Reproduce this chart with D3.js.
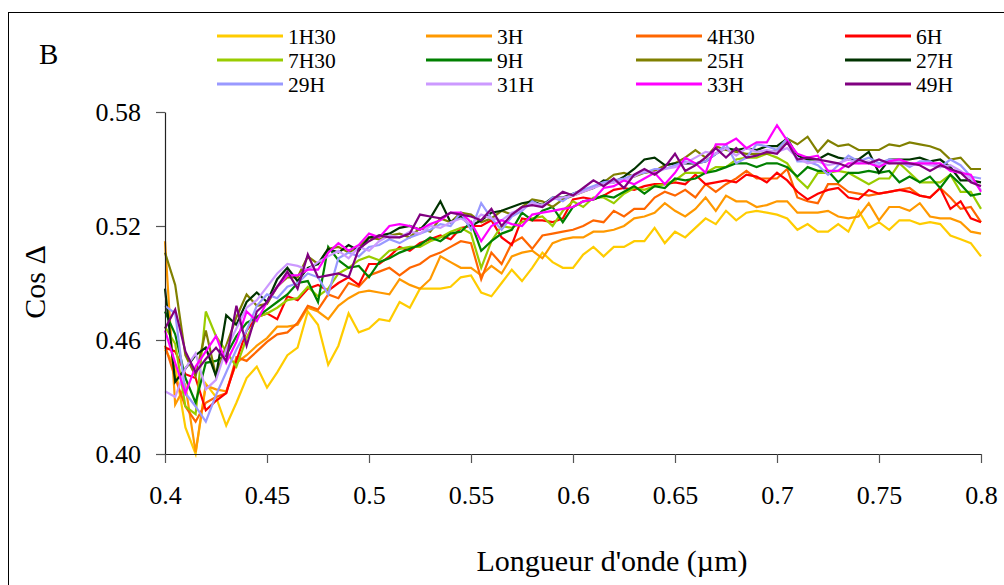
<!DOCTYPE html>
<html><head><meta charset="utf-8">
<script src="https://cdn.jsdelivr.net/npm/d3@7"></script>
<style>
body{margin:0;background:#fff}
svg{display:block}
text{font-family:"Liberation Serif","Times New Roman",serif;fill:#000}
</style>
</head><body><svg id="c" width="1004" height="585"></svg>
<script>
const wavelengths = [0.400,0.405,0.410,0.415,0.420,0.425,0.430,0.435,0.440,0.445,0.450,0.455,0.460,0.465,0.470,0.475,
0.480,0.485,0.490,0.495,0.500,0.505,0.510,0.515,0.520,0.525,0.530,0.535,0.540,0.545,0.550,0.555,
0.560,0.565,0.570,0.575,0.580,0.585,0.590,0.595,0.600,0.605,0.610,0.615,0.620,0.625,0.630,0.635,
0.640,0.645,0.650,0.655,0.660,0.665,0.670,0.675,0.680,0.685,0.690,0.695,0.700,0.705,0.710,0.715,
0.720,0.725,0.730,0.735,0.740,0.745,0.750,0.755,0.760,0.765,0.770,0.775,0.780,0.785,0.790,0.795,0.800];

const s1H30 = [0.455,0.446,0.414,0.400,0.437,0.430,0.415,0.427,0.440,0.446,0.435,0.443,0.452,0.456,0.475,0.468,
0.447,0.457,0.474,0.464,0.466,0.471,0.470,0.480,0.477,0.487,0.487,0.487,0.488,0.493,0.494,0.485,
0.483,0.490,0.497,0.491,0.498,0.506,0.501,0.498,0.498,0.505,0.509,0.504,0.509,0.509,0.512,0.512,
0.519,0.511,0.517,0.514,0.519,0.524,0.521,0.528,0.523,0.527,0.528,0.527,0.526,0.524,0.518,
0.521,0.517,0.517,0.521,0.517,0.528,0.519,0.522,0.518,0.523,0.523,0.521,0.522,0.521,0.515,0.513,0.511,0.504];
const s3H = [0.512,0.426,0.436,0.401,0.436,0.434,0.433,0.448,0.452,0.457,0.461,0.467,0.467,0.468,0.477,0.475,
0.471,0.478,0.482,0.485,0.486,0.485,0.484,0.492,0.489,0.487,0.492,0.504,0.501,0.498,0.498,0.494,
0.499,0.495,0.504,0.506,0.507,0.503,0.511,0.513,0.514,0.514,0.517,0.517,0.518,0.520,0.524,
0.525,0.527,0.532,0.528,0.525,0.529,0.535,0.528,0.536,0.533,0.533,0.530,0.531,0.533,0.533,
0.527,0.527,0.527,0.528,0.525,0.524,0.525,0.532,0.523,0.530,0.530,0.528,0.532,0.525,0.524,0.524,0.522,0.517,0.516];
const s4H30 = [0.457,0.440,0.425,0.417,0.427,0.430,0.432,0.451,0.449,0.454,0.459,0.463,0.464,0.469,0.478,0.476,
0.484,0.482,0.490,0.488,0.494,0.496,0.498,0.494,0.498,0.500,0.504,0.506,0.509,0.512,0.511,
0.492,0.506,0.500,0.511,0.514,0.508,0.515,0.516,0.517,0.518,0.520,0.523,0.522,0.528,0.525,0.529,
0.529,0.535,0.538,0.536,0.539,0.535,0.542,0.538,0.542,0.545,0.549,0.545,0.545,0.545,0.550,
0.535,0.533,0.532,0.542,0.542,0.538,0.537,0.536,0.537,0.538,0.539,0.540,0.536,0.535,0.540,0.535,0.529,0.530,0.522];
const s6H = [0.456,0.454,0.442,0.440,0.423,0.428,0.432,0.449,0.465,0.472,0.474,0.471,0.483,0.481,0.487,0.489,
0.486,0.490,0.493,0.489,0.500,0.500,0.504,0.509,0.507,0.511,0.513,0.515,0.513,0.519,0.520,
0.520,0.523,0.514,0.510,0.524,0.523,0.523,0.522,0.524,0.534,0.535,0.534,0.536,0.539,0.540,0.539,
0.541,0.542,0.542,0.543,0.542,0.547,0.542,0.543,0.544,0.543,0.547,0.546,0.543,0.548,0.544,
0.538,0.534,0.537,0.539,0.540,0.535,0.534,0.539,0.537,0.538,0.539,0.538,0.536,0.535,0.540,0.529,0.533,0.524,0.522];
const s7H30 = [0.467,0.458,0.425,0.421,0.475,0.462,0.454,0.446,0.461,0.472,0.474,0.477,0.481,0.482,0.488,0.483,
0.487,0.495,0.498,0.502,0.504,0.502,0.507,0.508,0.509,0.509,0.512,0.514,0.517,0.519,0.516,
0.498,0.512,0.520,0.519,0.522,0.524,0.525,0.520,0.528,0.533,0.530,0.535,0.535,0.532,0.537,0.540,
0.539,0.541,0.542,0.544,0.548,0.548,0.548,0.551,0.551,0.555,0.556,0.556,0.558,0.556,0.553,
0.545,0.540,0.548,0.548,0.549,0.548,0.545,0.542,0.545,0.545,0.553,0.548,0.543,0.543,0.543,0.547,0.538,0.538,0.529];
const s9H = [0.475,0.463,0.440,0.427,0.448,0.449,0.452,0.462,0.469,0.472,0.476,0.480,0.484,0.490,0.491,0.480,
0.509,0.502,0.498,0.499,0.493,0.501,0.503,0.506,0.508,0.510,0.514,0.512,0.516,0.517,0.522,
0.507,0.512,0.516,0.518,0.527,0.523,0.528,0.530,0.522,0.530,0.533,0.534,0.536,0.535,0.538,0.541,
0.537,0.541,0.540,0.545,0.544,0.545,0.548,0.549,0.551,0.553,0.553,0.551,0.553,0.553,0.551,
0.546,0.551,0.549,0.549,0.543,0.548,0.548,0.549,0.548,0.549,0.543,0.546,0.543,0.546,0.540,0.547,0.542,0.536,0.537];
const s25H = [0.506,0.489,0.452,0.441,0.465,0.441,0.457,0.472,0.484,0.478,0.479,0.488,0.493,0.493,0.504,0.500,
0.508,0.509,0.506,0.509,0.514,0.513,0.515,0.516,0.514,0.519,0.517,0.524,0.522,0.527,0.526,
0.522,0.524,0.528,0.526,0.530,0.534,0.533,0.530,0.534,0.536,0.538,0.540,0.543,0.547,0.548,0.546,
0.548,0.549,0.552,0.553,0.556,0.560,0.556,0.562,0.560,0.559,0.558,0.558,0.558,0.560,0.566,
0.563,0.567,0.559,0.565,0.562,0.563,0.560,0.560,0.560,0.563,0.562,0.564,0.563,0.562,0.560,0.555,0.556,0.550,0.550];
const s27H = [0.487,0.438,0.445,0.452,0.456,0.441,0.473,0.468,0.480,0.485,0.480,0.492,0.498,0.491,0.498,0.500,
0.508,0.506,0.510,0.507,0.514,0.515,0.516,0.519,0.520,0.518,0.524,0.533,0.522,0.525,0.520,
0.523,0.527,0.528,0.530,0.532,0.533,0.531,0.535,0.535,0.537,0.539,0.540,0.544,0.543,0.546,0.550,
0.555,0.556,0.552,0.553,0.553,0.553,0.554,0.558,0.561,0.560,0.561,0.560,0.562,0.562,0.566,
0.557,0.555,0.555,0.558,0.556,0.555,0.555,0.559,0.548,0.555,0.555,0.555,0.556,0.554,0.555,0.551,0.544,0.544,0.543];
const s29H = [0.478,0.474,0.432,0.425,0.417,0.431,0.443,0.455,0.465,0.478,0.484,0.482,0.488,0.490,0.495,0.493,
0.484,0.503,0.506,0.504,0.509,0.510,0.513,0.511,0.514,0.516,0.518,0.521,0.520,0.527,0.518,
0.532,0.524,0.518,0.525,0.528,0.533,0.530,0.535,0.533,0.537,0.539,0.541,0.543,0.544,0.545,0.547,
0.548,0.550,0.550,0.552,0.554,0.553,0.554,0.558,0.563,0.553,0.556,0.563,0.562,0.560,0.566,
0.554,0.554,0.552,0.547,0.552,0.557,0.554,0.556,0.553,0.555,0.554,0.551,0.554,0.554,0.551,0.555,0.552,0.546,0.545];
const s31H = [0.433,0.430,0.445,0.453,0.434,0.439,0.455,0.466,0.477,0.481,0.488,0.495,0.500,0.499,0.497,0.501,
0.504,0.507,0.503,0.509,0.507,0.512,0.515,0.514,0.517,0.516,0.520,0.519,0.522,0.524,0.521,
0.526,0.524,0.523,0.527,0.529,0.532,0.531,0.534,0.535,0.536,0.538,0.540,0.542,0.543,0.544,0.546,
0.549,0.548,0.550,0.551,0.553,0.556,0.559,0.558,0.561,0.557,0.561,0.559,0.560,0.559,0.561,
0.556,0.553,0.554,0.552,0.553,0.555,0.553,0.554,0.552,0.553,0.554,0.552,0.553,0.552,0.551,0.552,0.549,0.545,0.539];
const s33H = [0.465,0.448,0.432,0.446,0.454,0.462,0.448,0.459,0.475,0.470,0.480,0.488,0.494,0.494,0.497,0.497,
0.506,0.511,0.507,0.510,0.516,0.514,0.520,0.521,0.520,0.518,0.521,0.523,0.527,0.527,0.522,
0.512,0.520,0.523,0.521,0.520,0.526,0.527,0.528,0.529,0.530,0.533,0.534,0.540,0.541,0.544,0.542,
0.545,0.548,0.542,0.548,0.556,0.553,0.548,0.563,0.563,0.566,0.561,0.564,0.564,0.573,0.565,
0.558,0.556,0.557,0.549,0.549,0.553,0.553,0.553,0.551,0.554,0.555,0.553,0.553,0.553,0.553,0.549,0.548,0.547,0.538];
const s49H = [0.466,0.476,0.454,0.443,0.450,0.456,0.449,0.478,0.457,0.475,0.480,0.488,0.496,0.487,0.505,0.493,
0.494,0.495,0.493,0.508,0.512,0.515,0.514,0.514,0.516,0.526,0.525,0.524,0.527,0.526,0.525,
0.523,0.529,0.520,0.526,0.530,0.531,0.530,0.534,0.538,0.536,0.540,0.544,0.541,0.545,0.540,0.547,
0.550,0.547,0.551,0.558,0.549,0.552,0.556,0.561,0.556,0.561,0.556,0.557,0.559,0.558,0.564,
0.555,0.556,0.555,0.554,0.553,0.551,0.555,0.553,0.555,0.553,0.553,0.553,0.552,0.549,0.552,0.550,0.548,0.543,0.541];

const seriesNames = ["1H30","3H","4H30","6H","7H30","9H","25H","27H","29H","31H","33H","49H"];
const seriesColors = ["#FFCC00","#FF9900","#FF6600","#FF0000","#99CC00","#008000","#808000","#003300","#9999FF","#CC99FF","#FF00FF","#800080"];
const seriesValues = [s1H30,s3H,s4H30,s6H,s7H30,s9H,s25H,s27H,s29H,s31H,s33H,s49H];
const xTicks = [0.4,0.45,0.5,0.55,0.6,0.65,0.7,0.75,0.8];
const xTickLabels = ["0.4","0.45","0.5","0.55","0.6","0.65","0.7","0.75","0.8"];
const yTicks = [0.40,0.46,0.52,0.58];
const yTickLabels = ["0.40","0.46","0.52","0.58"];

const svg = d3.select("#c");
svg.append("rect").attr("x",8.5).attr("y",12.5).attr("width",1000).attr("height",600)
  .attr("fill","none").attr("stroke","#000").attr("stroke-width",1);

const x = d3.scaleLinear().domain([0.4,0.8]).range([165,981]);
const y = d3.scaleLinear().domain([0.40,0.58]).range([454,112]);

// series
const line = d3.line().x((d,i)=>x(wavelengths[i])).y(d=>y(d));
const g = svg.append("g");
seriesValues.forEach((vals,k)=>{
  g.append("path").datum(vals).attr("d",line).attr("fill","none")
   .attr("stroke",seriesColors[k]).attr("stroke-width",2.2).attr("stroke-linejoin","miter");
});

// axes
const yAxis = d3.axisLeft(y).tickValues(yTicks).tickFormat((d,i)=>yTickLabels[i])
  .tickSize(9).tickSizeOuter(0).tickPadding(15);
const ya = svg.append("g").attr("transform","translate(165,0)").call(yAxis);
const xAxis = d3.axisBottom(x).tickValues(xTicks).tickFormat((d,i)=>xTickLabels[i])
  .tickSize(9).tickSizeOuter(0).tickPadding(23);
const xa = svg.append("g").attr("transform","translate(0,454)").call(xAxis);
[ya,xa].forEach(a=>{
  a.select(".domain").attr("stroke","#222").attr("stroke-width",1.2);
  a.selectAll(".tick line").attr("stroke","#555").attr("stroke-width",1.2);
  a.selectAll(".tick text").attr("font-size",26).attr("font-family","'Liberation Serif',serif").attr("fill","#000");
});

// titles
svg.append("text").attr("x",612).attr("y",571).attr("text-anchor","middle")
  .attr("font-size",30).text("Longueur d'onde (µm)");
svg.append("text").attr("transform","translate(45,282) rotate(-90)").attr("text-anchor","middle")
  .attr("font-size",30).text("Cos Δ");
svg.append("text").attr("x",39).attr("y",64).attr("font-size",29).text("B");

// legend
const legCols = [217,426,636,845];
const legRows = [36,60,84];
seriesNames.forEach((n,k)=>{
  const cx = legCols[k%4], cy = legRows[Math.floor(k/4)];
  svg.append("line").attr("x1",cx).attr("x2",cx+66).attr("y1",cy).attr("y2",cy)
    .attr("stroke",seriesColors[k]).attr("stroke-width",3);
  svg.append("text").attr("x",cx+71).attr("y",cy+7.5).attr("font-size",21.5).text(n);
});
</script>
</body></html>
